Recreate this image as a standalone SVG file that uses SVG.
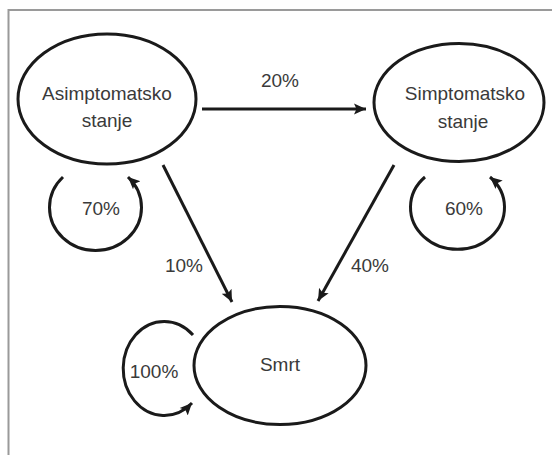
<svg xmlns="http://www.w3.org/2000/svg" width="552" height="455" viewBox="0 0 552 455">
<defs>
<marker id="ah" markerUnits="userSpaceOnUse" markerWidth="14" markerHeight="12" refX="12" refY="6" orient="auto">
<path d="M0,0.5 L12,6 L0,11.5 L2.5,6 Z" fill="#1a1a1a"/>
</marker>
<style>
.node{fill:#fff;stroke:#1a1a1a;stroke-width:3}
.edge{fill:none;stroke:#1a1a1a;stroke-width:3;marker-end:url(#ah)}
.t{font-family:"Liberation Sans",Arial,sans-serif;font-size:19px;fill:#3a3a3a;text-anchor:middle}
</style>
</defs>
<rect width="552" height="455" fill="#fff"/>
<path d="M8.5 455 V10 H552" fill="none" stroke="#9a9a9a" stroke-width="2"/>
<g id="connectors">
<line class="edge" x1="202" y1="109" x2="366" y2="109"/>
<line class="edge" x1="163" y1="165" x2="232" y2="302"/>
<line class="edge" x1="394" y1="165" x2="318" y2="301"/>
<path class="edge" d="M63 177 A46 43 0 1 0 128 177"/>
<path class="edge" d="M425 177 A47 42 0 1 0 490 177"/>
<path class="edge" d="M193 335 A41 47 0 1 0 192 403"/>
<text class="t" x="280" y="87">20%</text>
<text class="t" x="184" y="272">10%</text>
<text class="t" x="370" y="272">40%</text>
<text class="t" x="101" y="215">70%</text>
<text class="t" x="464" y="215">60%</text>
<text class="t" x="154" y="378">100%</text>
</g>
<g id="asimptomatsko">
<ellipse class="node" cx="107" cy="99" rx="89" ry="65"/>
<text class="t" x="107" y="100">Asimptomatsko</text>
<text class="t" x="107" y="127">stanje</text>
</g>
<g id="simptomatsko">
<ellipse class="node" cx="459" cy="102.5" rx="85" ry="59"/>
<text class="t" x="465" y="100">Simptomatsko</text>
<text class="t" x="463" y="128">stanje</text>
</g>
<g id="smrt">
<ellipse class="node" cx="280" cy="365.5" rx="86" ry="59"/>
<text class="t" x="280" y="371">Smrt</text>
</g>
</svg>
